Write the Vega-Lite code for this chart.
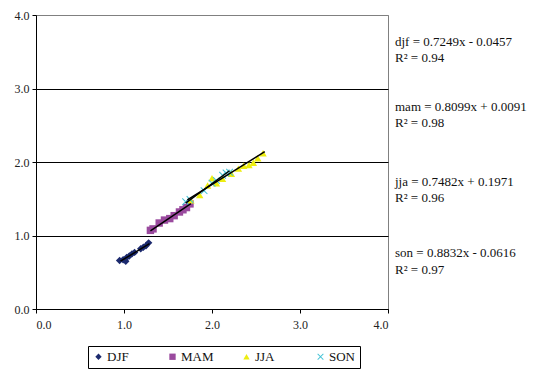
{
  "$schema": "https://vega.github.io/schema/vega-lite/v6.json",
  "width": 352,
  "height": 294,
  "autosize": {"type": "none"},
  "padding": {"left": 36, "top": 15, "right": 149, "bottom": 63},
  "background": "white",
  "config": {
    "view": {"stroke": "#808080", "strokeWidth": 1},
    "font": "Liberation Serif, Times New Roman, serif"
  },
  "datasets": {
    "pts": [
      {"season": "DJF", "x": 0.95, "y": 0.66},
      {"season": "DJF", "x": 0.99, "y": 0.67},
      {"season": "DJF", "x": 1.02, "y": 0.65},
      {"season": "DJF", "x": 1.03, "y": 0.70},
      {"season": "DJF", "x": 1.06, "y": 0.72},
      {"season": "DJF", "x": 1.09, "y": 0.75},
      {"season": "DJF", "x": 1.12, "y": 0.77},
      {"season": "DJF", "x": 1.19, "y": 0.82},
      {"season": "DJF", "x": 1.22, "y": 0.84},
      {"season": "DJF", "x": 1.25, "y": 0.86},
      {"season": "DJF", "x": 1.28, "y": 0.90},
      {"season": "MAM", "x": 1.30, "y": 1.07},
      {"season": "MAM", "x": 1.33, "y": 1.09},
      {"season": "MAM", "x": 1.40, "y": 1.17},
      {"season": "MAM", "x": 1.46, "y": 1.21},
      {"season": "MAM", "x": 1.52, "y": 1.23},
      {"season": "MAM", "x": 1.57, "y": 1.27},
      {"season": "MAM", "x": 1.63, "y": 1.32},
      {"season": "MAM", "x": 1.67, "y": 1.35},
      {"season": "MAM", "x": 1.71, "y": 1.38},
      {"season": "MAM", "x": 1.75, "y": 1.43},
      {"season": "JJA", "x": 1.76, "y": 1.48},
      {"season": "JJA", "x": 1.86, "y": 1.55},
      {"season": "JJA", "x": 1.95, "y": 1.68},
      {"season": "JJA", "x": 2.00, "y": 1.78},
      {"season": "JJA", "x": 2.05, "y": 1.71},
      {"season": "JJA", "x": 2.12, "y": 1.77},
      {"season": "JJA", "x": 2.22, "y": 1.84},
      {"season": "JJA", "x": 2.30, "y": 1.91},
      {"season": "JJA", "x": 2.36, "y": 1.95},
      {"season": "JJA", "x": 2.42, "y": 1.96},
      {"season": "JJA", "x": 2.47, "y": 1.99},
      {"season": "JJA", "x": 2.52, "y": 2.05},
      {"season": "JJA", "x": 2.58, "y": 2.12},
      {"season": "SON", "x": 1.70, "y": 1.46},
      {"season": "SON", "x": 1.75, "y": 1.49},
      {"season": "SON", "x": 1.91, "y": 1.61},
      {"season": "SON", "x": 2.00, "y": 1.71},
      {"season": "SON", "x": 2.05, "y": 1.75},
      {"season": "SON", "x": 2.12, "y": 1.82},
      {"season": "SON", "x": 2.16, "y": 1.85},
      {"season": "SON", "x": 2.20, "y": 1.86}
    ],
    "trend": [
      {"season": "DJF", "x": 0.96, "y": 0.650},
      {"season": "DJF", "x": 1.29, "y": 0.889},
      {"season": "MAM", "x": 1.30, "y": 1.062},
      {"season": "MAM", "x": 1.76, "y": 1.435},
      {"season": "JJA", "x": 1.72, "y": 1.484},
      {"season": "JJA", "x": 2.60, "y": 2.142},
      {"season": "SON", "x": 1.70, "y": 1.440},
      {"season": "SON", "x": 2.20, "y": 1.881}
    ],
    "eqs": [
      {"label": "djf = 0.7249x - 0.0457", "x": 4, "y": 3.63},
      {"label": "R² = 0.94", "x": 4, "y": 3.41},
      {"label": "mam = 0.8099x + 0.0091", "x": 4, "y": 2.75},
      {"label": "R² = 0.98", "x": 4, "y": 2.53},
      {"label": "jja = 0.7482x + 0.1971", "x": 4, "y": 1.73},
      {"label": "R² = 0.96", "x": 4, "y": 1.51},
      {"label": "son = 0.8832x - 0.0616", "x": 4, "y": 0.76},
      {"label": "R² = 0.97", "x": 4, "y": 0.53}
    ]
  },
  "layer": [
    {
      "data": {"name": "pts"},
      "mark": {"type": "point", "filled": true, "opacity": 1, "size": 55},
      "encoding": {
        "x": {
          "field": "x", "type": "quantitative",
          "scale": {"domain": [0, 4], "nice": false},
          "axis": {
            "title": null, "values": [0, 1, 2, 3, 4], "format": ".1f", "grid": false,
            "domainColor": "black", "tickColor": "black", "tickSize": 4,
            "labelFont": "Liberation Serif", "labelFontSize": 12, "labelColor": "#222",
            "labelPadding": 6
          }
        },
        "y": {
          "field": "y", "type": "quantitative",
          "scale": {"domain": [0, 4], "nice": false},
          "axis": {
            "title": null, "values": [0, 1, 2, 3, 4], "format": ".1f", "grid": true,
            "gridColor": {"condition": {"test": "datum.value == 4", "value": "#808080"}, "value": "black"},
            "gridOpacity": 1, "gridWidth": 1,
            "domainColor": "black", "tickColor": "black", "tickSize": 4,
            "labelFont": "Liberation Serif", "labelFontSize": 12, "labelColor": "#222",
            "labelPadding": 3
          }
        },
        "color": {
          "field": "season", "type": "nominal",
          "scale": {"domain": ["DJF", "MAM", "JJA", "SON"], "range": ["#1c2a6e", "#9a4a9e", "#eded10", "#45c3d6"]},
          "legend": {
            "title": null, "orient": "none", "legendX": 52, "legendY": 331,
            "direction": "horizontal", "strokeColor": "black", "padding": 4,
            "columnPadding": 26, "gridAlign": "all", "symbolSize": 40, "symbolOffset": 0,
            "labelFont": "Liberation Serif", "labelFontSize": 13, "labelColor": "#111", "labelOffset": 2
          }
        },
        "shape": {
          "field": "season", "type": "nominal",
          "scale": {"domain": ["DJF", "MAM", "JJA", "SON"], "range": ["diamond", "square", "triangle-up", "M-1,-0.8L-0.8,-1L0,-0.2L0.8,-1L1,-0.8L0.2,0L1,0.8L0.8,1L0,0.2L-0.8,1L-1,0.8L-0.2,0Z"]},
          "legend": null
        }
      }
    },
    {
      "data": {"name": "trend"},
      "mark": {"type": "line", "color": "black", "strokeWidth": 1.5},
      "encoding": {
        "x": {"field": "x", "type": "quantitative"},
        "y": {"field": "y", "type": "quantitative"},
        "detail": {"field": "season"}
      }
    },
    {
      "data": {"name": "eqs"},
      "mark": {"type": "text", "align": "left", "baseline": "middle", "dx": 7, "font": "Liberation Serif", "fontSize": 13, "color": "#111"},
      "encoding": {
        "x": {"field": "x", "type": "quantitative"},
        "y": {"field": "y", "type": "quantitative"},
        "text": {"field": "label"}
      }
    }
  ]
}
